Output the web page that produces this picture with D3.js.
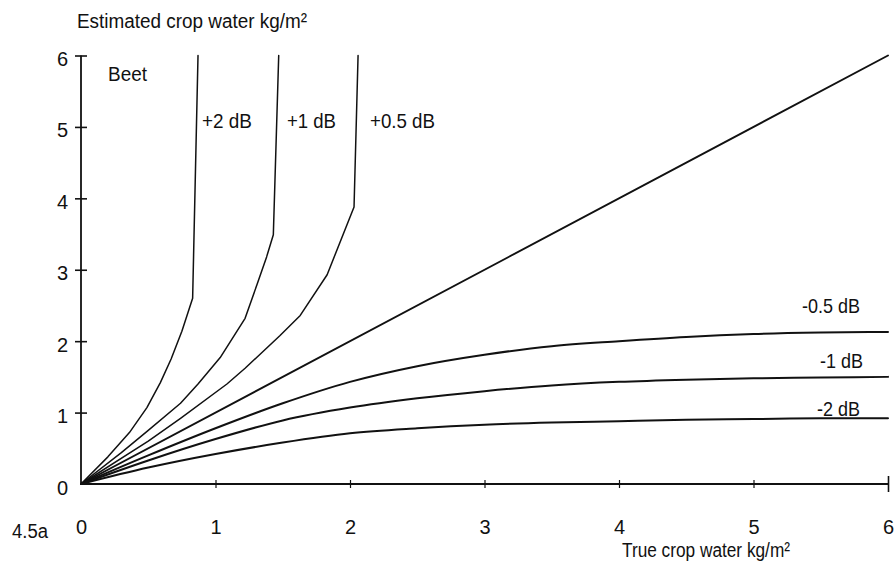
<!DOCTYPE html>
<html>
<head>
<meta charset="utf-8">
<script src="https://cdn.jsdelivr.net/npm/d3@7"></script>
<style>
  html, body { margin: 0; padding: 0; background: #fff; }
  svg text { font-family: "Liberation Sans Narrow", "Liberation Sans", Arial, Helvetica, sans-serif; fill: #111; }
</style>
</head>
<body>
<svg id="chart" width="895" height="565"></svg>
<script>
// Axis tick values and their labels
const xTicks = [0, 1, 2, 3, 4, 5, 6];
const yTicks = [0, 1, 2, 3, 4, 5, 6];
const xTickLabels = ["0", "1", "2", "3", "4", "5", "6"];
const yTickLabels = ["0", "1", "2", "3", "4", "5", "6"];

// True crop water (x) vs estimated crop water (y), kg/m², for each calibration offset
const trueIdentity = [0, 6];
const estIdentity  = [0, 6];

const truePlus2  = [0, 0.20, 0.36, 0.49, 0.59, 0.67, 0.75, 0.83, 0.87];
const estPlus2   = [0, 0.38, 0.72, 1.07, 1.42, 1.75, 2.14, 2.60, 6.0];

const truePlus1  = [0, 0.30, 0.50, 0.74, 0.87, 1.035, 1.22, 1.31, 1.38, 1.43, 1.47];
const estPlus1   = [0, 0.44, 0.75, 1.13, 1.40, 1.77, 2.32, 2.80, 3.18, 3.49, 6.0];

const truePlus05 = [0, 0.50, 0.74, 1.085, 1.22, 1.48, 1.63, 1.83, 2.03, 2.06];
const estPlus05  = [0, 0.60, 0.92, 1.40, 1.62, 2.08, 2.36, 2.93, 3.88, 6.0];

const trueMinus  = [0, 0.5, 1.0, 1.5, 2.0, 2.5, 3.0, 3.5, 4.0, 4.5, 5.0, 5.5, 6.0];
const estMinus05 = [0, 0.40, 0.78, 1.13, 1.43, 1.65, 1.81, 1.93, 2.00, 2.06, 2.10, 2.12, 2.13];
const estMinus1  = [0, 0.33, 0.63, 0.89, 1.07, 1.20, 1.30, 1.38, 1.43, 1.46, 1.48, 1.49, 1.50];
const estMinus2  = [0, 0.23, 0.42, 0.58, 0.71, 0.78, 0.83, 0.86, 0.88, 0.90, 0.91, 0.92, 0.92];

const svg = d3.select("#chart");

const x = d3.scaleLinear().domain([0, 6]).range([81, 888]);
const y = d3.scaleLinear().domain([0, 6]).range([484, 55.5]);

const ink = "#111";

// ---- axes ----
const yAxis = svg.append("g")
  .attr("transform", `translate(${x(0)},0)`)
  .call(d3.axisLeft(y).tickValues(yTicks).tickFormat((d, i) => yTickLabels[i]).tickSize(0).tickPadding(0));
yAxis.select(".domain").attr("d", `M0,${y(0)}V${y(6)}`).attr("stroke", ink).attr("stroke-width", 1.8);
yAxis.selectAll(".tick line").attr("x1", -6).attr("x2", 6).attr("stroke", ink).attr("stroke-width", 1.6);
yAxis.selectAll(".tick text")
  .attr("x", -13).attr("dy", "0.35em").attr("y", 3)
  .attr("font-size", 20).attr("text-anchor", "end").attr("fill", ink);
yAxis.selectAll(".tick").filter(d => d === 0).select("line").remove();

const xAxis = svg.append("g")
  .attr("transform", `translate(0,${y(0)})`)
  .call(d3.axisBottom(x).tickValues(xTicks).tickFormat((d, i) => xTickLabels[i]).tickSize(0).tickPadding(0));
xAxis.select(".domain").attr("d", `M${x(0)},0H${x(6)}`).attr("stroke", ink).attr("stroke-width", 2);
xAxis.selectAll(".tick line").attr("y1", -4).attr("y2", 4).attr("stroke", ink).attr("stroke-width", 1.2);
xAxis.selectAll(".tick").filter(d => d === 6).select("line").attr("y1", -8).attr("y2", 8).attr("stroke-width", 1.6);
xAxis.selectAll(".tick").filter(d => d === 0).select("line").remove();
xAxis.selectAll(".tick text")
  .attr("y", 50).attr("dy", 0)
  .attr("font-size", 20).attr("fill", ink);

// ---- curves ----
const line = d3.line().x(d => x(d[0])).y(d => y(d[1]));
const smooth = d3.line().x(d => x(d[0])).y(d => y(d[1])).curve(d3.curveMonotoneX);
const zip = (xs, ys) => xs.map((v, i) => [v, ys[i]]);

const plot = svg.append("g").attr("fill", "none").attr("stroke", ink).attr("stroke-linejoin", "round").attr("stroke-linecap", "round");

plot.append("path").attr("d", line(zip(trueIdentity, estIdentity))).attr("stroke-width", 1.9);
plot.append("path").attr("d", line(zip(truePlus2, estPlus2))).attr("stroke-width", 1.5);
plot.append("path").attr("d", line(zip(truePlus1, estPlus1))).attr("stroke-width", 1.5);
plot.append("path").attr("d", line(zip(truePlus05, estPlus05))).attr("stroke-width", 1.5);
plot.append("path").attr("d", smooth(zip(trueMinus, estMinus05))).attr("stroke-width", 2);
plot.append("path").attr("d", smooth(zip(trueMinus, estMinus1))).attr("stroke-width", 2);
plot.append("path").attr("d", smooth(zip(trueMinus, estMinus2))).attr("stroke-width", 2);

// ---- text ----
function label(txt, px, py, size, width) {
  svg.append("text")
    .attr("x", px).attr("y", py)
    .attr("font-size", size)
    .attr("textLength", width).attr("lengthAdjust", "spacingAndGlyphs")
    .text(txt);
}

label("Estimated crop water kg/m\u00b2", 77, 28, 20, 230);
label("True crop water kg/m\u00b2", 622, 557, 20, 168);
label("4.5a", 12, 538, 20, 36);
label("Beet", 108, 81, 20, 39);
label("+2 dB", 202, 128, 21, 50);
label("+1 dB", 287, 128, 21, 49);
label("+0.5 dB", 370, 128, 21, 65);
label("-0.5 dB", 802, 313, 21, 58);
label("-1 dB", 820, 368, 21, 43);
label("-2 dB", 817, 416, 21, 43);
</script>
</body>
</html>
